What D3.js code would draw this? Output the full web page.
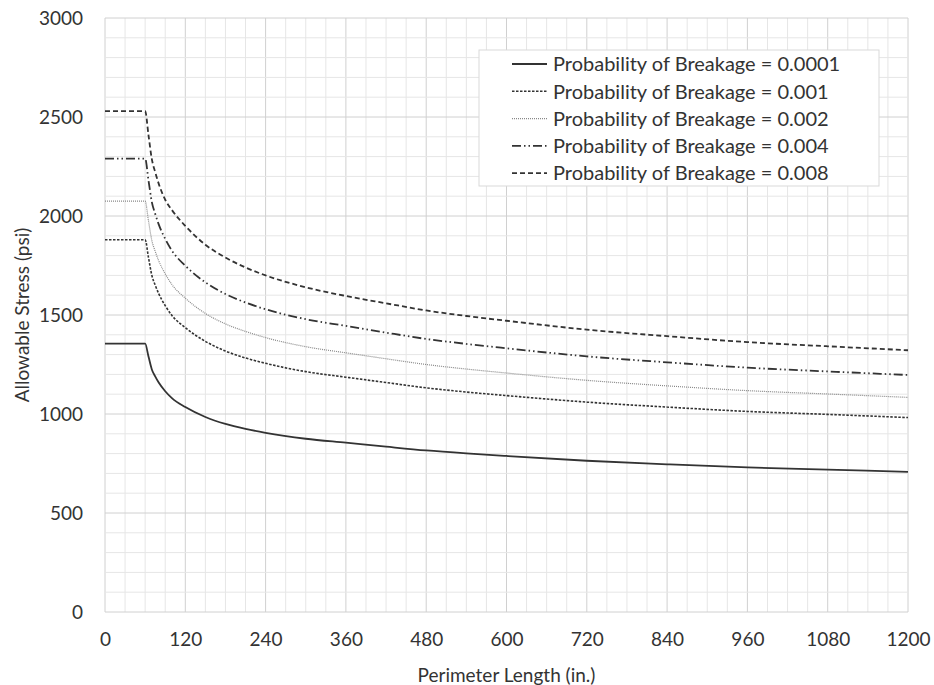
<!DOCTYPE html>
<html>
<head>
<meta charset="utf-8">
<script src="https://cdn.jsdelivr.net/npm/d3@7"></script>
<style>
  body { margin: 0; background: #fff; }
  text { font-family: Lato, "Open Sans", sans-serif; fill: #333; }
</style>
</head>
<body>
<div id="chart"></div>
<script>
// perimeter lengths (in.)
const lengths = [0, 60, 65, 70, 75, 80, 90, 100, 120, 150, 180, 210, 240, 300, 360, 420, 480, 540, 600, 720, 840, 960, 1080, 1200]

// allowable stress (psi)
const p0001 = [1355, 1355, 1290, 1225, 1190, 1160, 1115, 1080, 1035, 985, 950, 925, 905, 875, 855, 835, 816, 801, 788, 764, 746, 730, 719, 708]
const p001 = [1880, 1880, 1790, 1700, 1651, 1610, 1547, 1498, 1436, 1367, 1318, 1283, 1256, 1214, 1186, 1159, 1132, 1111, 1093, 1060, 1035, 1013, 998, 982]
const p002 = [2075, 2075, 1975, 1876, 1822, 1776, 1708, 1654, 1585, 1508, 1455, 1417, 1386, 1340, 1309, 1279, 1250, 1227, 1207, 1170, 1142, 1118, 1101, 1084]
const p004 = [2290, 2290, 2180, 2070, 2011, 1960, 1884, 1825, 1749, 1665, 1606, 1563, 1529, 1479, 1445, 1411, 1379, 1354, 1332, 1291, 1261, 1234, 1215, 1197]
const p008 = [2530, 2530, 2408, 2287, 2222, 2166, 2082, 2030, 1950, 1855, 1790, 1740, 1700, 1640, 1596, 1559, 1523, 1495, 1471, 1426, 1393, 1363, 1342, 1322]

const seriesNames = [
    'Probability of Breakage = 0.0001',
    'Probability of Breakage = 0.001',
    'Probability of Breakage = 0.002',
    'Probability of Breakage = 0.004',
    'Probability of Breakage = 0.008'
]
const xTicks = [0, 120, 240, 360, 480, 600, 720, 840, 960, 1080, 1200]
const yTicks = [0, 500, 1000, 1500, 2000, 2500, 3000]

const styles = [
    {color: '#333', width: 1.8, dash: null},
    {color: '#333', width: 1.6, dash: '2.5,1.5'},
    {color: '#888', width: 1.2, dash: '1,1'},
    {color: '#333', width: 1.8, dash: '9,3,1.5,3,1.5,3'},
    {color: '#333', width: 1.8, dash: '5,3'}
]

const W = 934, H = 685
const margin = {top: 18, right: 26, bottom: 73, left: 105}

const svg = d3.select('#chart').append('svg')
    .attr('width', W)
    .attr('height', H)

let xScale = d3.scaleLinear()
    .domain([0, 1200])
    .range([margin.left, W - margin.right])
let yScale = d3.scaleLinear()
    .domain([0, 3000])
    .range([H - margin.bottom, margin.top])

// grid: minor every 30 in / 100 psi, major on the ticks
svg.append('g')
    .selectAll('line')
    .data(d3.range(0, 1201, 30))
    .join('line')
    .attr('x1', d => xScale(d)).attr('x2', d => xScale(d))
    .attr('y1', yScale(0)).attr('y2', yScale(3000))
    .attr('stroke', d => d % 120 === 0 ? '#d0d0d0' : '#e6e6e6')
    .attr('stroke-width', 1)
svg.append('g')
    .selectAll('line')
    .data(d3.range(0, 3001, 100))
    .join('line')
    .attr('x1', xScale(0)).attr('x2', xScale(1200))
    .attr('y1', d => yScale(d)).attr('y2', d => yScale(d))
    .attr('stroke', d => d % 500 === 0 ? '#d0d0d0' : '#e6e6e6')
    .attr('stroke-width', 1)

const xAxis = d3.axisBottom(xScale).tickValues(xTicks).tickFormat(d3.format('d')).tickSize(0).tickPadding(21)
const yAxis = d3.axisLeft(yScale).tickValues(yTicks).tickFormat(d3.format('d')).tickSize(0).tickPadding(22)

svg.append('g')
    .attr('transform', `translate(0, ${yScale(0)})`)
    .call(xAxis)
    .call(g => g.select('.domain').remove())
    .selectAll('text').style('font-size', '19px').attr('fill', '#333')
svg.append('g')
    .attr('transform', `translate(${xScale(0)},0)`)
    .call(yAxis)
    .call(g => g.select('.domain').remove())
    .selectAll('text').style('font-size', '19px').attr('fill', '#333')

svg.append('text')
    .attr('x', (xScale(0) + xScale(1200)) / 2)
    .attr('y', 682)
    .attr('text-anchor', 'middle')
    .style('font-size', '19px')
    .text('Perimeter Length (in.)')
svg.append('text')
    .attr('transform', `translate(29, ${(yScale(0) + yScale(3000)) / 2}) rotate(-90)`)
    .attr('text-anchor', 'middle')
    .style('font-size', '19px')
    .text('Allowable Stress (psi)')

const allSeries = [p0001, p001, p002, p004, p008]

const line = d3.line()
    .x(d => xScale(d[0]))
    .y(d => yScale(d[1]))
    .curve(d3.curveMonotoneX)

allSeries.forEach((vals, i) => {
    const pts = lengths.map((l, j) => [l, vals[j]])
    svg.append('path')
        .datum(pts)
        .attr('fill', 'none')
        .attr('stroke', styles[i].color)
        .attr('stroke-width', styles[i].width)
        .attr('stroke-dasharray', styles[i].dash)
        .attr('d', line)
})

// legend
const lg = svg.append('g').attr('transform', 'translate(479, 50)')
lg.append('rect')
    .attr('width', 400).attr('height', 136)
    .attr('fill', '#fff')
    .attr('stroke', '#d9d9d9')
seriesNames.forEach((name, i) => {
    const y = 14 + i * 27.3
    lg.append('line')
        .attr('x1', 33).attr('x2', 68)
        .attr('y1', y).attr('y2', y)
        .attr('stroke', styles[i].color)
        .attr('stroke-width', styles[i].width)
        .attr('stroke-dasharray', styles[i].dash)
    lg.append('text')
        .attr('x', 74).attr('y', y)
        .attr('dy', '0.36em')
        .style('font-size', '20px')
        .text(name)
})
</script>
</body>
</html>
